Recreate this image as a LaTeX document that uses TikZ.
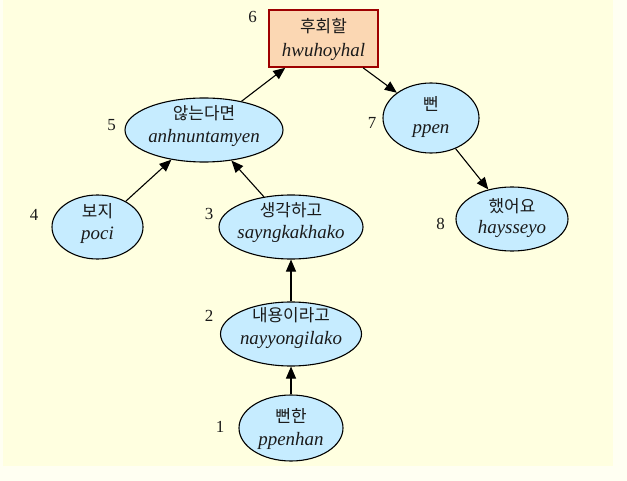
\documentclass[tikz,border=0pt]{standalone}
\usepackage{fontspec}
\setmainfont{Liberation Serif}
\newfontfamily\kofont{Noto Sans CJK KR}
\usetikzlibrary{shapes.geometric,arrows.meta}
\definecolor{paper}{HTML}{FFFFE0}
\definecolor{paperedge}{HTML}{FFFFF2}
\definecolor{wordfill}{HTML}{C6ECFF}
\definecolor{headfill}{HTML}{FBD7B3}
\definecolor{headline}{HTML}{9E0000}
\definecolor{ink}{HTML}{1A1A1A}
\begin{document}
\begin{tikzpicture}[x=1bp,y=-1bp,
  word/.style={ellipse,draw=black,line width=1.1bp,fill=wordfill,inner sep=0pt},
  headbox/.style={rectangle,draw=headline,line width=1.6bp,fill=headfill,inner sep=0pt},
  kor/.style={font=\kofont\fontsize{17}{17}\selectfont,text=ink,inner sep=0pt},
  rom/.style={font=\fontsize{19}{19}\selectfont\itshape,text=ink,inner sep=0pt,anchor=base},
  idx/.style={font=\fontsize{17}{17}\selectfont,text=ink,inner sep=0pt},
  dep/.style={line width=1.1bp,-{Triangle[length=12bp,width=10bp]}}]

% canvas
\fill[paperedge] (0,0) rectangle (627,481);
\fill[paper] (3,0) rectangle (613,466);
\useasboundingbox (0,0) rectangle (627,481);

% root word
\node[headbox,minimum width=109bp,minimum height=57bp] (n6) at (323.5,38.5) {};
\node[kor] (k6) at (323.5,26.5) {후회할};
\node[rom] (r6) at (323.5,57) {hwuhoyhal};
\node[idx] (l6) at (252.5,17) {6};

% dependents
\node[word,minimum width=158bp,minimum height=64bp] (n5) at (204,130) {};
\node[kor] (k5) at (204,113) {않는다면};
\node[rom] (r5) at (204,143) {anhnuntamyen};
\node[idx] (l5) at (111.5,125) {5};

\node[word,minimum width=91bp,minimum height=64bp] (n4) at (97.5,227) {};
\node[kor] (k4) at (97.5,211) {보지};
\node[rom] (r4) at (97.5,240) {poci};
\node[idx] (l4) at (34,215) {4};

\node[word,minimum width=144bp,minimum height=64bp] (n3) at (291,227) {};
\node[kor] (k3) at (291,210) {생각하고};
\node[rom] (r3) at (291,239) {sayngkakhako};
\node[idx] (l3) at (209,214) {3};

\node[word,minimum width=141bp,minimum height=64bp] (n2) at (291,334) {};
\node[kor] (k2) at (291,315) {내용이라고};
\node[rom] (r2) at (291,344) {nayyongilako};
\node[idx] (l2) at (209,316) {2};

\node[word,minimum width=104bp,minimum height=66bp] (n1) at (291,428) {};
\node[kor] (k1) at (291,416) {뻔한};
\node[rom] (r1) at (291,445) {ppenhan};
\node[idx] (l1) at (220,427) {1};

\node[word,minimum width=96bp,minimum height=70bp] (n7) at (431,118) {};
\node[kor] (k7) at (431,104) {뻔};
\node[rom] (r7) at (431,134) {ppen};
\node[idx] (l7) at (372,123) {7};

\node[word,minimum width=112bp,minimum height=64bp] (n8) at (512,219) {};
\node[kor] (k8) at (512,206) {했어요};
\node[rom] (r8) at (512,234) {haysseyo};
\node[idx] (l8) at (440.5,224) {8};

% dependency arcs
\draw[dep] (n5) -- (n6);
\draw[dep] (n4) -- (n5);
\draw[dep] (n3) -- (n5);
\draw[dep] (n2) -- (n3);
\draw[dep] (n1) -- (n2);
\draw[dep] (n6) -- (n7);
\draw[dep] (n7) -- (n8);
\end{tikzpicture}
\end{document}
